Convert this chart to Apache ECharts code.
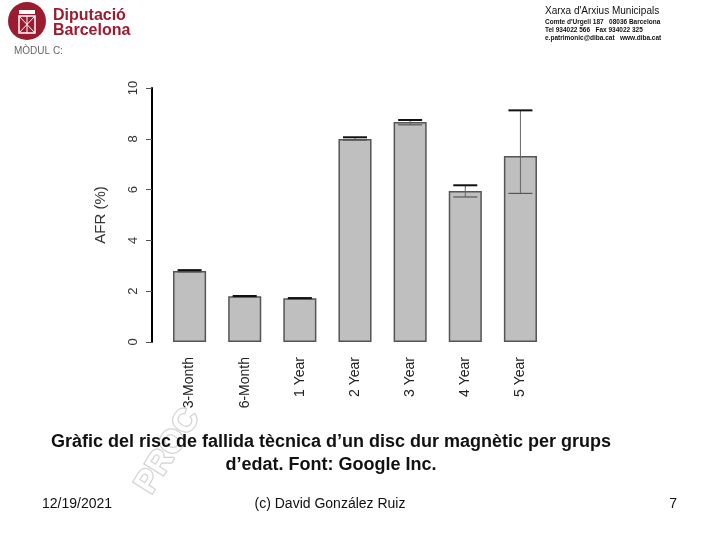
<!DOCTYPE html>
<html>
<head>
<meta charset="utf-8">
<script src="https://cdn.jsdelivr.net/npm/echarts@6/dist/echarts.min.js"></script>
<style>
html,body{margin:0;padding:0;background:#fff;}
#c{width:720px;height:540px;}
</style>
</head>
<body>
<div id="c"></div>
<script>
var categories = ['3-Month', '6-Month', '1 Year', '2 Year', '3 Year', '4 Year', '5 Year'];
var afr = [2.80, 1.80, 1.72, 7.99, 8.66, 5.94, 7.32];
var errLow = [2.76, 1.78, 1.70, 7.95, 8.55, 5.71, 5.85];
var errHigh = [2.83, 1.81, 1.73, 8.06, 8.74, 6.17, 9.12];
var yTicks = [0, 2, 4, 6, 8, 10];

var errData = categories.map(function (c, i) { return [i, errLow[i], errHigh[i]]; });

var chart = echarts.init(document.getElementById('c'), null, {renderer: 'canvas'});
var FONT = 'Liberation Sans, Arial, sans-serif';
var RED = '#9b1b30';

chart.setOption({
  backgroundColor: '#fff',
  animation: false,
  grid: {left: 162, right: 172, top: 88, bottom: 198},
  xAxis: {
    type: 'category',
    data: categories,
    axisLine: {show: false},
    axisTick: {show: false},
    axisLabel: {rotate: 90, margin: 15, fontSize: 14, color: '#222', fontFamily: FONT}
  },
  yAxis: {
    type: 'value',
    min: 0, max: 10, interval: 2,
    offset: 10,
    name: 'AFR (%)',
    nameLocation: 'middle',
    nameRotate: 90,
    nameGap: 44,
    nameTextStyle: {fontSize: 15, color: '#333', fontFamily: FONT},
    splitLine: {show: false},
    axisLine: {show: true, lineStyle: {color: '#000', width: 2}},
    axisTick: {show: true, length: 6, lineStyle: {color: '#555'}},
    axisLabel: {rotate: 90, margin: 12, fontSize: 13, color: '#333', fontFamily: FONT,
      formatter: function (v) { return yTicks.indexOf(v) >= 0 ? String(v) : ''; }}
  },
  series: [
    {
      type: 'bar',
      data: afr,
      barWidth: '60%',
      itemStyle: {color: '#bfbfbf', borderColor: '#555', borderWidth: 1.5}
    },
    {
      type: 'custom',
      data: errData,
      z: 10,
      renderItem: function (params, api) {
        var x = api.value(0);
        var lo = api.coord([x, api.value(1)]);
        var hi = api.coord([x, api.value(2)]);
        var hw = 12;
        return {
          type: 'group',
          children: [
            {type: 'line', shape: {x1: lo[0], y1: lo[1], x2: hi[0], y2: hi[1]}, style: {stroke: '#666', lineWidth: 1}},
            {type: 'line', shape: {x1: lo[0] - hw, y1: lo[1], x2: lo[0] + hw, y2: lo[1]}, style: {stroke: '#555', lineWidth: 1.2}},
            {type: 'line', shape: {x1: hi[0] - hw, y1: hi[1], x2: hi[0] + hw, y2: hi[1]}, style: {stroke: '#111', lineWidth: 2}}
          ]
        };
      }
    }
  ],
  graphic: [
    // logo
    {type: 'circle', shape: {cx: 27, cy: 21, r: 19}, style: {fill: RED}},
    {type: 'rect', shape: {x: 19, y: 10, width: 16, height: 4}, style: {fill: '#fff'}},
    {type: 'rect', shape: {x: 19, y: 16, width: 16, height: 17}, style: {fill: 'none', stroke: '#fff', lineWidth: 1.5}},
    {type: 'line', shape: {x1: 19, y1: 16, x2: 35, y2: 33}, style: {stroke: '#fff', lineWidth: 1}},
    {type: 'line', shape: {x1: 35, y1: 16, x2: 19, y2: 33}, style: {stroke: '#fff', lineWidth: 1}},
    {type: 'line', shape: {x1: 27, y1: 16, x2: 27, y2: 33}, style: {stroke: '#fff', lineWidth: 1}},
    {type: 'text', left: 53, top: 8, style: {text: 'Diputació', font: 'bold 16px ' + FONT, fill: RED}},
    {type: 'text', left: 53, top: 23, style: {text: 'Barcelona', font: 'bold 16px ' + FONT, fill: RED}},
    {type: 'text', left: 14, top: 46, style: {text: 'MÒDUL C:', font: '10px ' + FONT, fill: '#666'}},
    // right header
    {type: 'text', left: 545, top: 6, style: {text: "Xarxa d'Arxius Municipals", font: '10px ' + FONT, fill: '#111'}},
    {type: 'text', left: 545, top: 19, style: {text: "Comte d'Urgell 187   08036 Barcelona", font: 'bold 6.5px ' + FONT, fill: '#111'}},
    {type: 'text', left: 545, top: 27, style: {text: 'Tel 934022 566   Fax 934022 325', font: 'bold 6.5px ' + FONT, fill: '#111'}},
    {type: 'text', left: 545, top: 35, style: {text: 'e.patrimonic@diba.cat   www.diba.cat', font: 'bold 6.5px ' + FONT, fill: '#111'}},
    // watermark
    {type: 'text', x: 130, y: 482, rotation: Math.PI * 58 / 180, z: -1,
      style: {text: 'PROC', font: 'bold 32px ' + FONT, fill: '#fff', stroke: '#d4d4d4', lineWidth: 2.5}},
    // caption
    {type: 'text', x: 331, y: 442, style: {text: 'Gràfic del risc de fallida tècnica d’un disc dur magnètic per grups', font: 'bold 18px ' + FONT, fill: '#111', textAlign: 'center', textVerticalAlign: 'middle'}},
    {type: 'text', x: 331, y: 465, style: {text: 'd’edat. Font: Google Inc.', font: 'bold 18px ' + FONT, fill: '#111', textAlign: 'center', textVerticalAlign: 'middle'}},
    // footer
    {type: 'text', x: 42, y: 504, style: {text: '12/19/2021', font: '14px ' + FONT, fill: '#111', textVerticalAlign: 'middle'}},
    {type: 'text', x: 330, y: 504, style: {text: '(c) David González Ruiz', font: '14px ' + FONT, fill: '#111', textAlign: 'center', textVerticalAlign: 'middle'}},
    {type: 'text', x: 677, y: 504, style: {text: '7', font: '14px ' + FONT, fill: '#111', textAlign: 'right', textVerticalAlign: 'middle'}}
  ]
});
</script>
</body>
</html>
